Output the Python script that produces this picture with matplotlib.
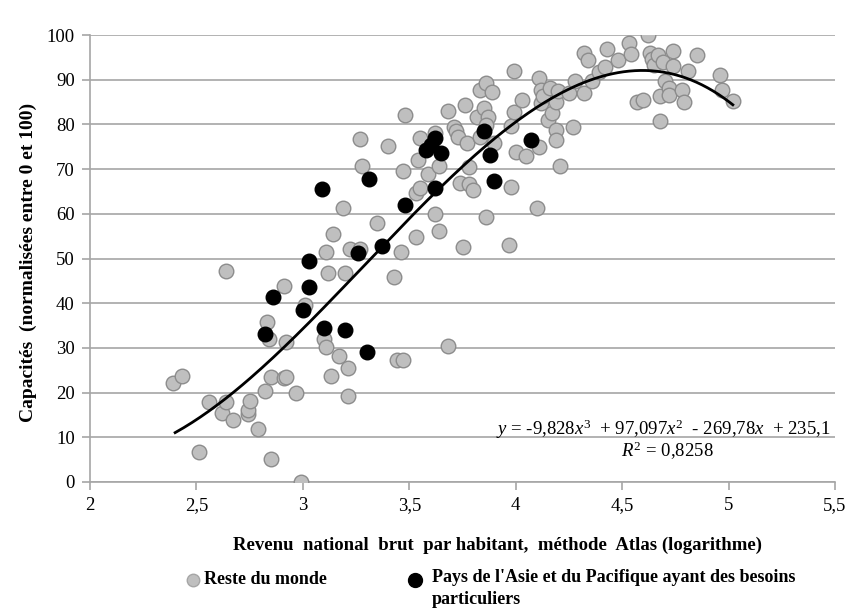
import numpy as np
import matplotlib
matplotlib.use("Agg")
import matplotlib.pyplot as plt
from matplotlib.lines import Line2D
from matplotlib.ticker import FuncFormatter

plt.rcParams['font.family'] = ['Liberation Serif', 'DejaVu Serif']
plt.rcParams['mathtext.fontset'] = 'custom'
plt.rcParams['mathtext.rm'] = 'Liberation Serif'
plt.rcParams['mathtext.it'] = 'Liberation Serif:italic'

# Reste du monde
rest_x = [2.39, 2.43, 2.51, 2.56, 2.62, 2.64, 2.64, 2.67, 2.74, 2.74, 2.75, 2.79,
          2.82, 2.83, 2.84, 2.85, 2.85, 2.91, 2.92, 2.92, 2.91, 2.97, 2.99, 3.01,
          3.10, 3.11, 3.11, 3.12, 3.13, 3.14, 3.17, 3.19, 3.20, 3.21, 3.21, 3.22,
          3.27, 3.27, 3.28, 3.35, 3.40, 3.43, 3.44, 3.47, 3.46, 3.47, 3.48, 3.53,
          3.53, 3.55, 3.54, 3.55, 3.59, 3.62, 3.62, 3.64, 3.64, 3.68, 3.68, 3.71,
          3.72, 3.73, 3.74, 3.75, 3.76, 3.77, 3.78, 3.78, 3.80, 3.82, 3.83, 3.83,
          3.85, 3.86, 3.86, 3.87, 3.86, 3.89, 3.90, 3.97, 3.98, 3.98, 3.99, 3.99,
          4.00, 4.03, 4.05, 4.10, 4.11, 4.11, 4.12, 4.12, 4.13, 4.15, 4.16, 4.17,
          4.19, 4.19, 4.19, 4.20, 4.21, 4.25, 4.27, 4.28, 4.32, 4.32, 4.34, 4.36,
          4.39, 4.42, 4.43, 4.48, 4.53, 4.54, 4.57, 4.60, 4.62, 4.63, 4.64, 4.65,
          4.67, 4.68, 4.68, 4.69, 4.70, 4.72, 4.72, 4.74, 4.74, 4.78, 4.79, 4.81,
          4.85, 4.96, 4.97, 5.02]
rest_y = [22.1, 23.8, 6.8, 17.8, 15.5, 17.8, 47.2, 13.9, 15.2, 16.1, 18.2, 11.8,
          20.4, 35.9, 32.1, 5.1, 23.6, 23.3, 23.6, 31.3, 43.8, 19.8, 0.1, 39.6,
          32.1, 30.3, 51.5, 46.7, 23.8, 55.5, 28.2, 61.2, 46.7, 25.4, 19.3, 52.1,
          52.1, 76.7, 70.7, 57.9, 75.2, 45.9, 27.3, 27.3, 51.5, 69.6, 82.0, 54.7,
          64.7, 65.8, 72.0, 76.9, 68.9, 78.0, 60.0, 70.7, 56.2, 30.4, 83.1, 79.5,
          78.5, 77.1, 67.0, 52.6, 84.3, 75.9, 70.5, 66.6, 65.3, 81.7, 87.7, 77.2,
          83.6, 89.2, 59.2, 81.7, 79.9, 87.3, 75.8, 53.0, 79.6, 65.9, 82.8, 92.0,
          73.9, 85.5, 72.9, 61.2, 90.3, 75.0, 87.7, 84.7, 86.3, 81.0, 88.1, 82.5,
          85.1, 78.7, 76.5, 87.4, 70.8, 87.0, 79.4, 89.6, 87.1, 95.9, 94.3, 89.6,
          91.8, 92.9, 96.8, 94.4, 98.1, 95.7, 85.1, 85.5, 100.0, 95.9, 94.7, 93.3,
          95.5, 86.4, 80.8, 94.0, 89.6, 88.1, 86.6, 96.4, 93.1, 87.7, 85.1, 92.0,
          95.5, 91.1, 87.7, 85.3]

# Pays de l'Asie et du Pacifique ayant des besoins particuliers
asia_x = [2.82, 2.86, 3.00, 3.03, 3.03, 3.09, 3.10, 3.20, 3.26, 3.30, 3.31,
          3.37, 3.48, 3.58, 3.60, 3.62, 3.65, 3.62, 3.85, 3.88, 3.90, 4.07]
asia_y = [33.1, 41.3, 38.5, 43.6, 49.4, 65.5, 34.4, 34.0, 51.2, 29.1, 67.7,
          52.8, 62.0, 74.3, 75.5, 76.9, 73.5, 65.7, 78.5, 73.2, 67.3, 76.5]

# Polynomial trend (order 3) as given on the chart
coef = [-9.828, 97.097, -269.78, 235.1]

fig = plt.figure(figsize=(8.48, 6.11), dpi=100)
ax = fig.add_axes([90 / 848, 1 - 482 / 611, (835 - 90) / 848, (482 - 35) / 611])

ax.scatter(rest_x, rest_y, s=110, color='#BFBFBF', edgecolors='#8C8C8C',
           linewidths=1, zorder=3)
ax.scatter(asia_x, asia_y, s=110, color='black', edgecolors='black',
           linewidths=1, zorder=4)

xs = np.linspace(2.4, 5.02, 200)
ax.plot(xs, np.polyval(coef, xs), color='black', lw=2, zorder=5)

ax.set_xlim(2, 5.5)
ax.set_ylim(0, 100)
ax.set_xticks(np.arange(2, 5.51, 0.5))
ax.set_yticks(np.arange(0, 101, 10))
ax.xaxis.set_major_formatter(FuncFormatter(lambda v, p: f"{v:g}".replace('.', ',')))
ax.grid(axis='y', color='#A6A6A6', lw=1.2)
ax.set_axisbelow(True)
for s in ['top', 'right']:
    ax.spines[s].set_visible(False)
for s in ['left', 'bottom']:
    ax.spines[s].set_color('#A6A6A6')
    ax.spines[s].set_linewidth(1.2)
ax.tick_params(axis='both', colors='#A6A6A6', labelcolor='black', labelsize=13.5,
               length=6, width=1.2, pad=5)

eq = r"$y$ = -9,828$x^3$  + 97,097$x^2$  - 269,78$x$  + 235,1"
ax.text(5.48, 11.8, eq, ha='right', va='center', fontsize=13.5)
ax.text(4.71, 7.0, r"$R^2$ = 0,8258", ha='center', va='center', fontsize=13.5)

fig.text(28 / 848, 1 - 262 / 611, "Capacités  (normalisées entre 0 et 100)",
         rotation=90, ha='center', va='center', fontsize=14, fontweight='bold')
fig.text(497 / 848, 1 - 545 / 611,
         "Revenu  national  brut  par habitant,  méthode  Atlas (logarithme)",
         ha='center', va='center', fontsize=13.5, fontweight='bold')

# legend drawn by hand so the black marker sits on the first text line
fig.add_artist(Line2D([193 / 848], [1 - 580 / 611], transform=fig.transFigure,
                      marker='o', ms=9, mfc='#BFBFBF', mec='#A6A6A6', ls='none'))
fig.text(204 / 848, 1 - 580 / 611, "Reste du monde", ha='left', va='center',
         fontsize=13, fontweight='bold')
fig.add_artist(Line2D([415 / 848], [1 - 580 / 611], transform=fig.transFigure,
                      marker='o', ms=10, mfc='black', mec='black', ls='none'))
fig.text(432 / 848, 1 - 569 / 611,
         "Pays de l'Asie et du Pacifique ayant des besoins\nparticuliers",
         ha='left', va='top', fontsize=13, fontweight='bold', linespacing=1.35)

fig.savefig('out.png', dpi=100)
